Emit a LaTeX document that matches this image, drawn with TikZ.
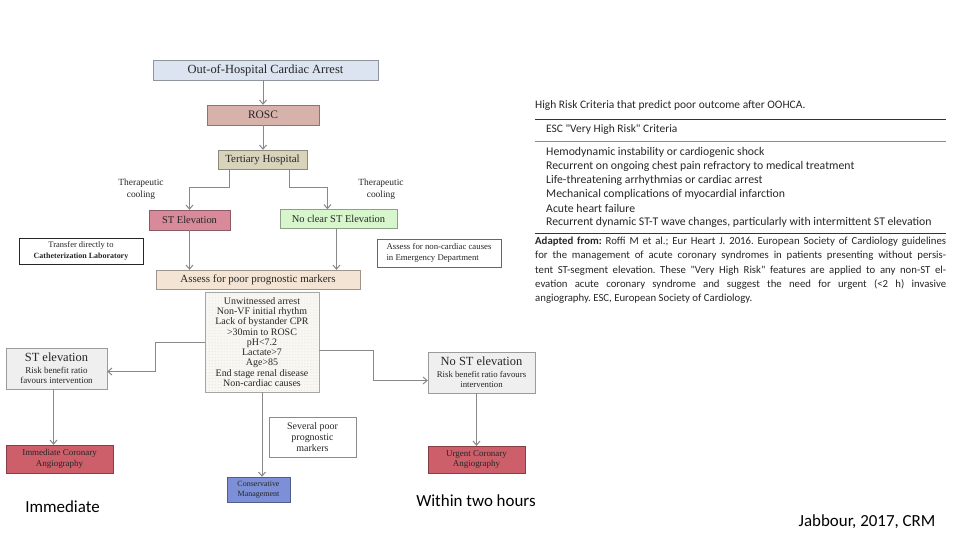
\documentclass[tikz,border=0pt]{standalone}
\usepackage{fontspec}
\setmainfont{Liberation Serif}
\newfontfamily\calfont{Carlito}
\usetikzlibrary{arrows.meta,calc,patterns,positioning}
\frenchspacing
\definecolor{ohcafill}{HTML}{DCE3F1}
\definecolor{roscfill}{HTML}{D7B2AB}
\definecolor{tertfill}{HTML}{D8D4BC}
\definecolor{stefill}{HTML}{D8899A}
\definecolor{ncstfill}{HTML}{D8F6CC}
\definecolor{assessfill}{HTML}{F4E4D4}
\definecolor{critfill}{HTML}{F8F7F2}
\definecolor{greyfill}{HTML}{EFEFEF}
\definecolor{angiofill}{HTML}{CC5F69}
\definecolor{consfill}{HTML}{7D8FD6}
\definecolor{linegray}{HTML}{888888}
\newcommand{\fsz}[2]{\fontsize{#1}{#2}\selectfont}

\begin{document}
\begin{tikzpicture}[x=1bp,y=-1bp,
  box/.style={fill=#1,draw=#1!65!black,inner sep=1bp,align=center,text=black!85},
  wbox/.style={fill=white,draw=black!60,inner sep=1bp,align=center,text=black!85},
  conn/.style={draw=linegray,line width=1bp,-{Straight Barb[length=4bp,width=7bp]}},
  lbl/.style={align=center,text=black!85,inner sep=0}]
\useasboundingbox (0,0) rectangle (960,540);
% flow chart
\node[box=ohcafill,minimum width=225bp,minimum height=20bp,font=\fsz{12.5}{14}] (ohca) at (265.5,70) {Out-of-Hospital Cardiac Arrest};
\node[box=roscfill,minimum width=112bp,minimum height=20bp,font=\fsz{11.5}{13}] (rosc) at (263,115) {ROSC};
\node[box=tertfill,minimum width=89bp,minimum height=19bp,font=\fsz{11}{13}] (tert) at (262.5,159.5) {Tertiary Hospital};
\node[box=stefill,minimum width=81bp,minimum height=20bp,font=\fsz{10.5}{12}] (ste) at (189.5,220) {ST Elevation};
\node[box=ncstfill,minimum width=117bp,minimum height=19bp,font=\fsz{10.5}{12}] (ncst) at (338.5,219) {No clear ST Elevation};
\node[lbl,font=\fsz{9.5}{12}] (coolL) at (141,189) {Therapeutic\\cooling};
\node[lbl,font=\fsz{9.5}{12}] (coolR) at (381,189.5) {Therapeutic\\cooling};
\node[wbox,draw=black!85,minimum width=124bp,minimum height=26bp,font=\fsz{8.5}{10.5}] (trans) at (81,251) {Transfer directly to\\{\bfseries\fsz{8}{10.5}Catheterization Laboratory}};
\node[wbox,align=left,minimum width=124bp,minimum height=28bp,font=\fsz{8.8}{11}] (noncard) at (439,253) {Assess for non-cardiac causes\\in Emergency Department};
\node[box=assessfill,minimum width=204bp,minimum height=19bp,font=\fsz{11}{13}] (assess) at (258,279.5) {Assess for poor prognostic markers};
\node[draw=black!35,preaction={fill=critfill},pattern=dots,pattern color=black!12,inner sep=1bp,align=center,text=black!85,
  minimum width=114bp,minimum height=100bp,font=\fsz{10}{10.25}] (crit) at (262,342)
  {Unwitnessed arrest\\Non-VF initial rhythm\\Lack of bystander CPR\\>30min to ROSC\\pH<7.2\\Lactate>7\\Age>85\\End stage renal disease\\Non-cardiac causes};
\node[box=greyfill,minimum width=101bp,minimum height=41bp,font=\fsz{9}{10.5}] (stel) at (56.5,368.5) {{\fsz{12.5}{13}ST elevation}\\[1.5bp]Risk benefit ratio\\favours intervention};
\node[box=greyfill,minimum width=107bp,minimum height=41bp,font=\fsz{8.8}{10.5}] (nost) at (481.5,372.5) {{\fsz{12.5}{13}No ST elevation}\\[1bp]Risk benefit ratio favours\\intervention};
\node[box=angiofill,minimum width=107bp,minimum height=28bp,font=\fsz{9}{11}] (imm) at (59.5,459) {Immediate Coronary\\Angiography};
\node[box=angiofill,minimum width=97bp,minimum height=27bp,font=\fsz{9}{11}] (urg) at (476.5,459.5) {Urgent Coronary\\Angiography};
\node[wbox,draw=black!45,minimum width=87bp,minimum height=40bp,font=\fsz{10}{11}] (several) at (312.5,437) {Several poor\\prognostic\\markers};
\node[box=consfill,minimum width=63bp,minimum height=25bp,font=\fsz{8}{10}] (cons) at (258.5,489.5) {Conservative\\Management};
% connectors
\draw[conn] (ohca.south -| rosc.north) -- (rosc.north);
\draw[conn] (rosc.south) -- (rosc.south |- tert.north);
\draw[conn] ($(tert.south)+(-33,0)$) -- ++(0,18) -| (ste.north);
\draw[conn] ($(tert.south)+(27,0)$) -- ++(0,18) -| ($(ncst.north)+(-11,0)$);
\draw[conn] (ste.south) -- (ste.south |- assess.north);
\draw[conn] ($(ncst.south)+(-2,0)$) -- ($(ncst.south |- assess.north)+(-2,0)$);
\draw[conn] (crit.west) -- ++(-49,0) |- ($(stel.east)+(0,3)$);
\draw[conn] ($(crit.east)+(0,8)$) -- ++(54,0) |- ($(nost.west)+(0,8)$);
\draw[conn] (crit.south) -- (crit.south |- cons.north);
\draw[conn] ($(stel.south)+(-3,0)$) -- ($(stel.south |- imm.north)+(-3,0)$);
\draw[conn] (urg.north |- nost.south) -- (urg.north);
% slide labels
\node[lbl,text=black,font=\calfont\fsz{17}{20}] (immlbl) at (62.5,507) {Immediate};
\node[lbl,text=black,font=\calfont\fsz{17}{20}] (twohrs) at (476,501) {Within two hours};
\node[lbl,text=black,font=\calfont\fsz{17}{20}] (ref) at (867,522) {Jabbour, 2017, CRM};
% risk table
\node[lbl,anchor=west,font=\calfont\fsz{11.5}{13}] (tabtitle) at (535,106) {High Risk Criteria that predict poor outcome after OOHCA.};
\draw[line width=0.9bp,black!80] (535,119) -- (946,119);
\node[lbl,anchor=west,font=\calfont\fsz{11.5}{13}] (tabhead) at (546,130) {ESC "Very High Risk" Criteria};
\draw[line width=0.7bp,black!45] (535,141) -- (946,141);
\foreach \txt [count=\i] in {Hemodynamic instability or cardiogenic shock,
    Recurrent on ongoing chest pain refractory to medical treatment,
    Life-threatening arrhythmias or cardiac arrest,
    Mechanical complications of myocardial infarction,
    Acute heart failure,
    {Recurrent dynamic ST-T wave changes, particularly with intermittent ST elevation}}
  \node[lbl,anchor=west,font=\calfont\fsz{11.8}{13}] (item\i) at (546,{138+14*\i}) {\txt};
\draw[line width=0.9bp,black!80] (535,233) -- (946,233);
\node[lbl,anchor=north west,align=justify,text width=411bp,font=\calfont\fsz{10.8}{14.2}] (adapt) at (535,237)
  {\textbf{Adapted from:} Roffi M et al.; Eur Heart J. 2016. European Society of Cardiology guidelines\linebreak
   for the management of acute coronary syndromes in patients presenting without persis-\linebreak
   tent ST-segment elevation. These "Very High Risk" features are applied to any non-ST el-\linebreak
   evation acute coronary syndrome and suggest the need for urgent (<2 h) invasive\linebreak
   angiography. ESC, European Society of Cardiology.};
\end{tikzpicture}
\end{document}
